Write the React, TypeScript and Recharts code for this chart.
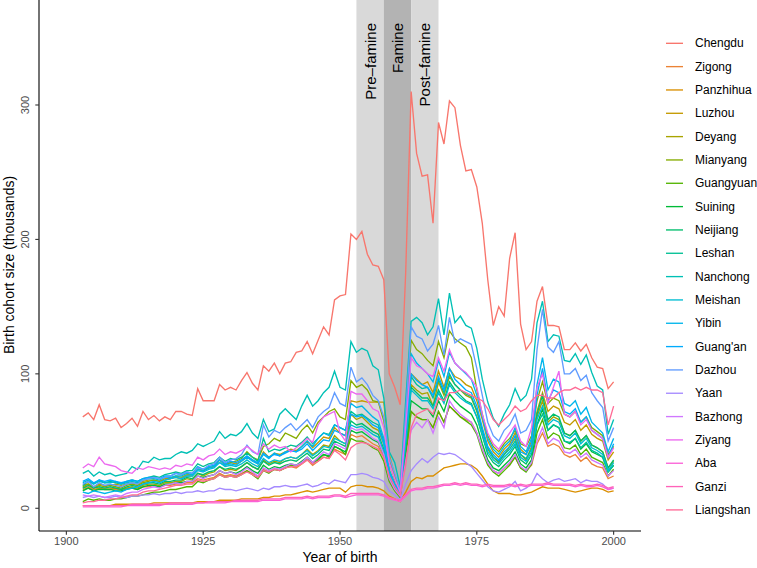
import React from 'react';
import { LineChart, Line, XAxis, YAxis, ReferenceArea } from 'recharts';

// Birth cohort size (thousands) by prefecture, birth years 1903..2000
const FIRST_YEAR = 1903;

const cities = [
  'Chengdu', 'Zigong', 'Panzhihua', 'Luzhou', 'Deyang', 'Mianyang', 'Guangyuan',
  'Suining', 'Neijiang', 'Leshan', 'Nanchong', 'Meishan', 'Yibin', "Guang'an",
  'Dazhou', 'Yaan', 'Bazhong', 'Ziyang', 'Aba', 'Ganzi', 'Liangshan',
];

const xTicks = [1900, 1925, 1950, 1975, 2000];
const yTicks = [0, 100, 200, 300];

const periods = [
  { label: 'Pre–famine', from: 1953, to: 1958, dark: false },
  { label: 'Famine', from: 1958, to: 1963, dark: true },
  { label: 'Post–famine', from: 1963, to: 1968, dark: false },
];

const chengdu = [
  68, 71, 66, 77, 66, 65, 67,
  60, 63, 67, 61, 72, 66, 69, 65, 68, 66,
  72, 72, 70, 69, 89, 80, 80, 80, 92, 88,
  90, 88, 95, 101, 93, 88, 106, 102, 108, 100,
  108, 109, 116, 117, 124, 115, 125, 135, 129, 155,
  158, 159, 204, 200, 206, 189, 181, 180, 170, 100,
  90, 77, 175, 310, 264, 247, 248, 212, 287, 271,
  303, 298, 270, 251, 252, 239, 212, 170, 136, 150,
  143, 186, 205, 137, 118, 124, 154, 165, 136, 136,
  135, 118, 118, 123, 117, 122, 112, 105, 104, 89,
  94,
];

const zigong = [
  15, 16, 14, 15, 15, 15, 14,
  14, 15, 15, 14, 16, 16, 17, 16, 17, 17,
  18, 18, 19, 19, 22, 21, 22, 23, 26, 24,
  25, 24, 26, 28, 26, 24, 29, 27, 29, 28,
  30, 31, 30, 33, 36, 32, 35, 38, 37, 44,
  42, 40, 55, 53, 54, 51, 48, 46, 38, 21,
  14, 9, 40, 72, 68, 66, 66, 60, 72, 64,
  76, 72, 68, 66, 64, 56, 44, 33, 28, 26,
  30, 33, 38, 30, 28, 32, 48, 56, 46, 48,
  46, 40, 38, 40, 35, 38, 33, 31, 30, 22,
  24,
];

const panzhihua = [
  2, 2, 2, 2, 2, 2, 3,
  3, 3, 3, 3, 3, 3, 4, 4, 4, 4,
  4, 4, 4, 4, 5, 5, 5, 5, 6, 6,
  6, 6, 7, 7, 7, 7, 8, 8, 9, 9,
  10, 10, 11, 12, 13, 12, 13, 14, 15, 15,
  15, 12, 16, 17, 17, 16, 16, 15, 13, 9,
  7, 5, 12, 20, 23, 22, 24, 24, 27, 30,
  31, 32, 33, 33, 32, 29, 24, 18, 13, 11,
  11, 11, 10, 10, 11, 12, 14, 16, 15, 15,
  15, 14, 13, 12, 13, 14, 15, 15, 14, 12,
  13,
];

const luzhou = [
  17, 18, 16, 18, 17, 17, 18,
  17, 18, 19, 18, 20, 21, 21, 20, 22, 22,
  24, 23, 25, 25, 30, 28, 30, 31, 36, 33,
  34, 33, 35, 38, 36, 33, 42, 38, 41, 40,
  42, 44, 43, 46, 50, 45, 49, 53, 52, 60,
  56, 54, 80, 79, 80, 79, 79, 79, 79, 40,
  24, 14, 48, 100, 96, 92, 94, 86, 102, 90,
  104, 98, 96, 92, 90, 80, 66, 50, 42, 38,
  44, 48, 56, 44, 40, 50, 72, 86, 72, 76,
  74, 64, 62, 66, 58, 62, 55, 52, 50, 36,
  42,
];

const deyang = [
  14, 15, 13, 15, 14, 14, 15,
  14, 15, 16, 15, 17, 18, 18, 17, 19, 19,
  20, 20, 22, 21, 26, 24, 26, 27, 31, 28,
  29, 28, 31, 34, 31, 29, 36, 33, 35, 34,
  37, 38, 37, 40, 44, 40, 43, 47, 46, 54,
  50, 48, 70, 66, 68, 64, 60, 58, 48, 28,
  18, 11, 50, 92, 88, 85, 86, 76, 94, 84,
  98, 92, 88, 84, 82, 72, 58, 44, 38, 34,
  40, 46, 52, 40, 36, 46, 68, 80, 64, 68,
  66, 56, 54, 58, 50, 54, 47, 45, 42, 30,
  35,
];

const mianyang = [
  16, 18, 15, 17, 16, 17, 16,
  15, 17, 18, 17, 19, 20, 21, 20, 21, 22,
  23, 22, 24, 24, 29, 28, 30, 31, 36, 32,
  34, 35, 37, 42, 38, 36, 46, 48, 52, 50,
  56, 54, 52, 58, 62, 56, 64, 68, 72, 74,
  68, 66, 95, 90, 92, 88, 80, 79, 65, 36,
  22, 13, 68, 125, 118, 115, 110, 106, 124, 112,
  132, 126, 123, 120, 112, 88, 70, 54, 46, 42,
  48, 52, 58, 48, 46, 54, 80, 94, 78, 82,
  80, 70, 68, 72, 64, 68, 60, 57, 54, 40,
  46,
];

const guangyuan = [
  5, 7, 6, 7, 6, 6, 7,
  7, 8, 9, 9, 10, 11, 12, 12, 13, 14,
  14, 15, 16, 16, 20, 19, 21, 22, 25, 23,
  24, 23, 25, 28, 25, 22, 28, 26, 29, 28,
  30, 32, 31, 34, 37, 33, 36, 40, 38, 46,
  44, 40, 52, 50, 50, 48, 45, 43, 35, 20,
  13, 8, 38, 72, 68, 66, 66, 60, 72, 64,
  76, 72, 68, 65, 62, 55, 42, 32, 27, 24,
  28, 32, 38, 30, 27, 33, 56, 66, 52, 56,
  54, 45, 44, 47, 40, 44, 38, 36, 34, 24,
  29,
];

const suining = [
  13, 15, 13, 14, 14, 14, 13,
  13, 14, 15, 14, 16, 17, 17, 16, 18, 18,
  19, 19, 20, 20, 24, 23, 24, 25, 28, 26,
  27, 26, 28, 31, 28, 26, 32, 29, 31, 30,
  32, 33, 32, 35, 38, 34, 37, 40, 39, 46,
  44, 42, 58, 56, 57, 54, 51, 49, 40, 22,
  15, 9, 44, 80, 77, 74, 74, 68, 80, 72,
  85, 80, 76, 73, 70, 62, 48, 36, 30, 28,
  32, 36, 42, 33, 30, 36, 62, 74, 58, 62,
  60, 50, 48, 52, 44, 48, 42, 40, 38, 27,
  32,
];

const neijiang = [
  15, 17, 15, 16, 15, 16, 15,
  14, 16, 17, 16, 18, 19, 19, 18, 20, 20,
  21, 21, 23, 22, 26, 25, 27, 28, 31, 29,
  30, 29, 31, 34, 31, 29, 35, 32, 34, 33,
  35, 36, 35, 38, 41, 37, 40, 44, 43, 50,
  48, 46, 65, 62, 63, 60, 57, 55, 44, 25,
  16, 10, 50, 90, 86, 82, 82, 76, 88, 80,
  94, 88, 84, 80, 78, 68, 54, 40, 34, 31,
  36, 40, 46, 36, 33, 40, 70, 84, 66, 70,
  68, 56, 54, 58, 50, 54, 47, 45, 42, 30,
  36,
];

const leshan = [
  17, 20, 18, 21, 19, 20, 19,
  18, 20, 21, 20, 22, 23, 24, 23, 25, 26,
  27, 26, 28, 28, 33, 31, 33, 34, 38, 35,
  37, 36, 38, 41, 38, 35, 52, 42, 44, 43,
  45, 47, 46, 49, 53, 48, 52, 56, 55, 62,
  60, 58, 72, 69, 70, 67, 64, 62, 50, 28,
  18, 11, 56, 98, 92, 89, 90, 82, 96, 86,
  100, 92, 88, 85, 83, 73, 58, 45, 38, 35,
  40, 44, 50, 40, 37, 44, 62, 70, 58, 62,
  60, 50, 49, 52, 45, 49, 43, 41, 38, 27,
  32,
];

const nanchong = [
  26, 28, 24, 27, 25, 26, 24,
  25, 26, 31, 29, 35, 34, 38, 36, 37, 37,
  40, 42, 41, 43, 48, 46, 48, 50, 57, 52,
  55, 54, 57, 63, 56, 52, 66, 57, 59, 70,
  74, 70, 66, 76, 84, 76, 80, 86, 90, 102,
  90, 88, 124, 116, 119, 117, 106, 103, 82, 42,
  34, 16, 80, 139, 142, 138, 129, 135, 156, 129,
  160, 138, 143, 136, 134, 119, 96, 79, 67, 61,
  70, 77, 89, 80, 84, 96, 138, 154, 124, 129,
  128, 110, 109, 115, 107, 114, 101, 91, 88, 55,
  66,
];

const meishan = [
  19, 21, 18, 20, 19, 19, 20,
  18, 19, 20, 19, 21, 22, 22, 21, 23, 23,
  24, 24, 26, 25, 29, 28, 30, 31, 34, 31,
  32, 31, 33, 36, 33, 31, 37, 34, 36, 35,
  37, 38, 37, 40, 43, 39, 42, 46, 45, 52,
  50, 48, 62, 60, 61, 58, 55, 53, 42, 24,
  16, 10, 48, 88, 84, 80, 80, 74, 86, 78,
  92, 86, 82, 79, 77, 68, 55, 42, 36, 33,
  38, 42, 48, 38, 35, 42, 66, 76, 62, 66,
  64, 54, 52, 56, 48, 52, 45, 43, 40, 28,
  34,
];

const yibin = [
  12, 11, 13, 12, 11, 12, 13,
  12, 14, 15, 16, 18, 19, 20, 19, 21, 22,
  23, 22, 24, 24, 28, 27, 29, 30, 34, 32,
  33, 32, 35, 38, 35, 33, 40, 37, 41, 39,
  42, 43, 42, 46, 50, 46, 52, 56, 54, 62,
  60, 58, 78, 75, 76, 72, 68, 65, 52, 28,
  18, 12, 60, 115, 108, 104, 100, 94, 110, 98,
  116, 108, 104, 100, 96, 84, 68, 52, 44, 40,
  46, 50, 60, 46, 42, 52, 92, 112, 88, 96,
  94, 78, 76, 80, 70, 75, 64, 60, 56, 42,
  52,
];

const guangan = [
  20, 22, 19, 21, 20, 21, 20,
  19, 20, 21, 20, 22, 23, 23, 22, 24, 24,
  26, 25, 27, 26, 31, 29, 31, 32, 36, 33,
  35, 34, 36, 39, 36, 34, 41, 38, 40, 39,
  41, 43, 42, 44, 48, 43, 47, 51, 50, 58,
  56, 54, 70, 68, 69, 66, 62, 60, 48, 26,
  17, 11, 55, 100, 95, 92, 90, 84, 98, 88,
  104, 96, 92, 88, 86, 76, 60, 46, 40, 36,
  42, 46, 54, 42, 40, 48, 84, 104, 80, 88,
  86, 72, 70, 74, 64, 68, 58, 55, 52, 38,
  48,
];

const dazhou = [
  18, 20, 16, 19, 17, 18, 17,
  16, 18, 19, 18, 21, 22, 23, 22, 23, 24,
  26, 25, 27, 26, 30, 29, 32, 33, 38, 34,
  36, 37, 40, 47, 42, 40, 62, 53, 58, 56,
  60, 63, 58, 62, 66, 60, 68, 72, 75, 86,
  78, 76, 105, 94, 97, 92, 84, 80, 68, 38,
  26, 14, 70, 135, 128, 126, 117, 122, 136, 114,
  142, 123, 126, 124, 122, 104, 84, 64, 54, 50,
  58, 62, 70, 56, 58, 66, 118, 148, 120, 116,
  124, 100, 100, 104, 95, 99, 86, 80, 75, 50,
  60,
];

const yaan = [
  8, 9, 8, 9, 8, 8, 9,
  8, 8, 9, 9, 10, 10, 11, 10, 11, 11,
  12, 11, 12, 12, 13, 12, 13, 13, 15, 14,
  14, 13, 14, 15, 14, 13, 15, 14, 16, 16,
  17, 16, 16, 17, 18, 16, 17, 19, 18, 21,
  20, 19, 25, 25, 26, 25, 23, 22, 20, 13,
  10, 6, 18, 28, 33, 37, 34, 38, 41, 40,
  41, 40, 37, 34, 31, 26, 21, 16, 13, 12,
  14, 16, 20, 13, 15, 18, 26, 22, 19, 21,
  22, 20, 21, 22, 19, 21, 20, 20, 18, 14,
  15,
];

const bazhong = [
  10, 9, 10, 9, 8, 9, 10,
  9, 11, 12, 12, 14, 15, 16, 15, 17, 18,
  19, 18, 20, 20, 24, 22, 24, 25, 28, 26,
  27, 25, 27, 30, 27, 24, 30, 28, 30, 29,
  31, 33, 32, 34, 38, 34, 38, 42, 40, 48,
  46, 44, 60, 58, 59, 56, 52, 50, 40, 22,
  14, 9, 35, 58, 64, 60, 66, 56, 68, 60,
  80, 74, 70, 67, 64, 56, 44, 34, 28, 26,
  30, 34, 40, 31, 28, 34, 50, 60, 48, 52,
  50, 42, 41, 44, 38, 41, 36, 34, 32, 24,
  28,
];

const ziyang = [
  30, 33, 31, 38, 33, 32, 31,
  28, 27, 26, 30, 29, 31, 30, 29, 30, 29,
  32, 31, 33, 32, 38, 36, 39, 40, 44, 40,
  42, 41, 43, 46, 43, 40, 48, 44, 47, 45,
  46, 42, 45, 48, 52, 49, 62, 68, 70, 72,
  56, 50, 87, 85, 85, 80, 74, 72, 60, 34,
  22, 12, 60, 112, 106, 104, 100, 98, 112, 102,
  118, 108, 104, 101, 96, 90, 70, 56, 48, 44,
  50, 56, 62, 50, 46, 60, 90, 100, 78, 90,
  102, 70, 68, 72, 62, 66, 58, 55, 52, 38,
  45,
];

const aba = [
  1, 1, 1, 1, 1, 1, 1,
  1, 2, 2, 2, 2, 2, 2, 2, 3, 3,
  3, 3, 3, 3, 4, 4, 4, 4, 4, 4,
  5, 5, 5, 5, 5, 5, 6, 6, 6, 6,
  7, 7, 7, 7, 8, 7, 8, 8, 8, 9,
  9, 8, 9, 10, 10, 10, 10, 10, 9, 7,
  6, 5, 9, 13, 14, 14, 15, 15, 16, 17,
  17, 18, 17, 18, 17, 17, 16, 17, 16, 16,
  16, 17, 16, 17, 16, 17, 17, 17, 18, 17,
  17, 17, 17, 16, 17, 16, 16, 17, 16, 14,
  15,
];

const ganzi = [
  2, 2, 2, 2, 2, 2, 2,
  2, 2, 3, 3, 3, 3, 3, 3, 3, 4,
  4, 4, 4, 4, 4, 4, 5, 5, 5, 5,
  5, 6, 6, 6, 6, 6, 7, 7, 7, 7,
  8, 8, 8, 8, 9, 8, 9, 9, 9, 10,
  10, 9, 11, 11, 11, 11, 11, 11, 10, 8,
  7, 6, 10, 14, 15, 15, 16, 16, 17, 18,
  18, 19, 18, 19, 18, 18, 17, 18, 17, 17,
  17, 18, 17, 18, 17, 18, 18, 18, 19, 18,
  18, 18, 18, 17, 18, 17, 17, 18, 17, 15,
  16,
];

const liangshan = [
  4, 5, 5, 6, 6, 7, 7,
  8, 9, 10, 10, 12, 13, 13, 14, 15, 16,
  17, 17, 18, 18, 21, 20, 21, 22, 25, 23,
  24, 23, 25, 27, 25, 23, 28, 27, 29, 28,
  30, 31, 31, 33, 36, 33, 35, 38, 37, 43,
  40, 36, 45, 48, 49, 48, 46, 44, 38, 24,
  16, 10, 32, 60, 70, 72, 74, 70, 82, 80,
  86, 86, 88, 86, 84, 82, 80, 74, 66, 62,
  66, 70, 76, 72, 74, 80, 84, 84, 82, 82,
  86, 88, 88, 90, 88, 90, 88, 88, 86, 62,
  76,
];

const seriesValues = [
  chengdu, zigong, panzhihua, luzhou, deyang, mianyang, guangyuan, suining,
  neijiang, leshan, nanchong, meishan, yibin, guangan, dazhou, yaan, bazhong,
  ziyang, aba, ganzi, liangshan,
];

// ggplot2 default hue palette: hcl(h, c = 100, l = 65)
const hcl = (h: number, c = 100, l = 65) => {
  const hr = (h * Math.PI) / 180;
  const U = c * Math.cos(hr);
  const V = c * Math.sin(hr);
  const Xn = 95.047, Yn = 100, Zn = 108.883;
  const den = Xn + 15 * Yn + 3 * Zn;
  const un = (4 * Xn) / den, vn = (9 * Yn) / den;
  const Y = Yn * Math.pow((l + 16) / 116, 3);
  const up = U / (13 * l) + un;
  const vp = V / (13 * l) + vn;
  const X = (9 * Y * up) / (4 * vp);
  const Z = -X / 3 - 5 * Y + (3 * Y) / vp;
  const x = X / 100, y = Y / 100, z = Z / 100;
  const lin = [
    3.240479 * x - 1.53715 * y - 0.498535 * z,
    -0.969256 * x + 1.875992 * y + 0.041556 * z,
    0.055648 * x - 0.204043 * y + 1.057311 * z,
  ];
  return '#' + lin.map(v => {
    const g = v <= 0.0031308 ? 12.92 * v : 1.055 * Math.pow(v, 1 / 2.4) - 0.055;
    const n = Math.round(Math.min(1, Math.max(0, g)) * 255);
    return n.toString(16).padStart(2, '0');
  }).join('');
};

const colors = cities.map((_, i) => hcl(15 + (i * 360) / cities.length));

const rows = chengdu.map((_, i) => {
  const row: Record<string, number> = { year: FIRST_YEAR + i };
  cities.forEach((c, k) => { row[c] = seriesValues[k][i]; });
  return row;
});

const FONT = '"Liberation Sans", Arial, Helvetica, sans-serif';

const PeriodLabel = ({ viewBox, text }: any) => {
  if (!viewBox) return null;
  const cx = viewBox.x + viewBox.width / 2;
  return (
    <text
      x={cx} y={23}
      transform={`rotate(-90, ${cx}, 23)`}
      textAnchor="end" dominantBaseline="central"
      fontSize={15} fill="#000" fontFamily={FONT}
    >
      {text}
    </text>
  );
};

const YTick = ({ x, y, payload }: any) => (
  <text
    x={x - 8} y={y}
    transform={`rotate(-90, ${x - 8}, ${y})`}
    textAnchor="middle" dominantBaseline="central"
    fontSize={11} fill="#4D4D4D" fontFamily={FONT}
  >
    {payload.value}
  </text>
);

export default function App() {
  return (
    <div style={{ position: 'absolute', left: 0, top: 0, width: 757, height: 568, background: '#fff', fontFamily: FONT }}>
      <LineChart width={757} height={568} data={rows} margin={{ top: 0, right: 116, bottom: 0, left: 0 }}>
        {periods.map(p => (
          <ReferenceArea
            key={p.label}
            x1={p.from} x2={p.to}
            fill={p.dark ? '#B3B3B3' : '#D9D9D9'} fillOpacity={1} stroke="none"
            label={<PeriodLabel text={p.label} />}
          />
        ))}
        <XAxis
          dataKey="year" type="number" domain={[1895, 2005]} ticks={xTicks}
          allowDataOverflow height={37} tickSize={3.7} tickMargin={2}
          axisLine={{ stroke: '#000', strokeWidth: 1.1 }}
          tickLine={{ stroke: '#333', strokeWidth: 1.1 }}
          tick={{ fontSize: 11, fill: '#4D4D4D', fontFamily: FONT }}
        />
        <YAxis
          type="number" domain={[-16.9, 378.1]} ticks={yTicks} allowDataOverflow
          width={39} tickSize={3.7}
          axisLine={{ stroke: '#000', strokeWidth: 1.1 }}
          tickLine={{ stroke: '#333', strokeWidth: 1.1 }}
          tick={<YTick />}
        />
        {cities.map((c, i) => (
          <Line
            key={c} dataKey={c} type="linear" stroke={colors[i]} strokeWidth={1.35}
            dot={false} activeDot={false} isAnimationActive={false}
          />
        ))}
      </LineChart>
      <svg width={757} height={568} style={{ position: 'absolute', left: 0, top: 0, pointerEvents: 'none' }}>
        <text x={340} y={557} textAnchor="middle" dominantBaseline="central" fontSize={14} fontFamily={FONT} fill="#000">
          Year of birth
        </text>
        <text
          x={9} y={265} transform="rotate(-90, 9, 265)"
          textAnchor="middle" dominantBaseline="central" fontSize={14} fontFamily={FONT} fill="#000"
        >
          Birth cohort size (thousands)
        </text>
        {cities.map((c, i) => {
          const cy = 43.3 + i * 23.33;
          return (
            <g key={c}>
              <line x1={666} x2={683} y1={cy} y2={cy} stroke={colors[i]} strokeWidth={1.35} />
              <text x={695} y={cy} dominantBaseline="central" fontSize={12} fontFamily={FONT} fill="#000">
                {c}
              </text>
            </g>
          );
        })}
      </svg>
    </div>
  );
}
